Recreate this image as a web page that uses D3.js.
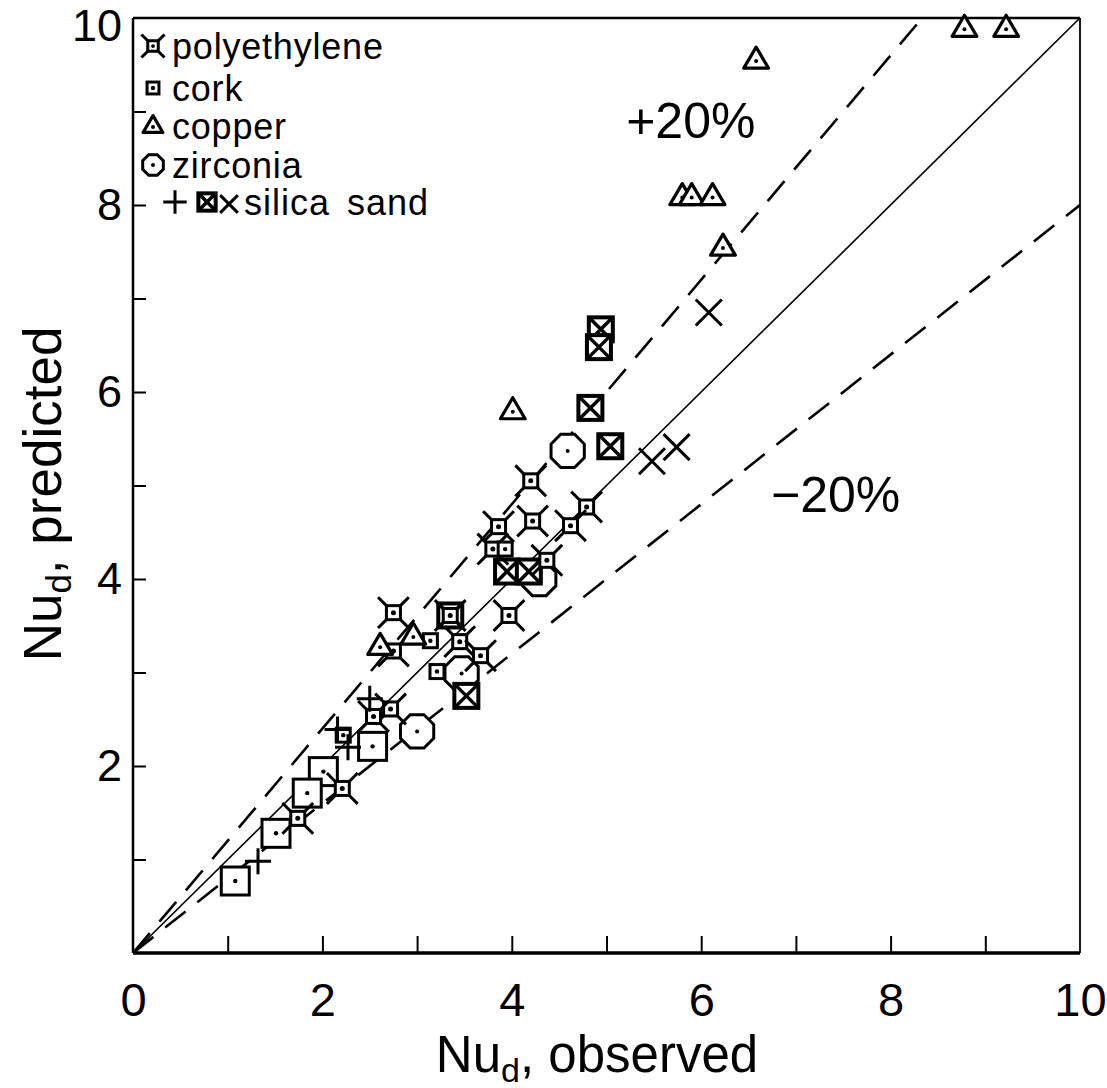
<!DOCTYPE html>
<html><head><meta charset="utf-8">
<script src="https://cdn.jsdelivr.net/npm/d3@7"></script>
<style>
html,body{margin:0;padding:0;background:#fff;}
svg{display:block;}
text{font-family:"Liberation Sans",Arial,Helvetica,sans-serif;fill:#000;}
</style></head>
<body>
<script>
// ---------------- data (Nu_d observed, Nu_d predicted) ----------------
const xTickLabels = [0, 2, 4, 6, 8, 10];
const yTickLabels = [2, 4, 6, 8, 10];
const minorTicks = [1, 2, 3, 4, 5, 6, 7, 8, 9];

const polyethylene = [
  [2.75, 3.64], [3.97, 3.61], [2.75, 3.23], [3.45, 3.33], [3.67, 3.18],
  [2.72, 2.61], [2.54, 2.53], [2.21, 1.76], [1.74, 1.44], [4.2, 5.05],
  [4.79, 4.77], [3.86, 4.56], [4.22, 4.62], [4.62, 4.57], [4.37, 4.2],
  [3.8, 4.32], [3.35, 3.61]
];
const cork = [[3.14, 3.34], [3.21, 3.01], [3.93, 4.32], [2.22, 2.33]];
const corkLarge = [[2.53, 2.21], [2.01, 1.94], [1.84, 1.71], [1.51, 1.28], [1.08, 0.77]];
const copper = [
  [8.78, 9.89], [9.22, 9.89], [6.58, 9.55], [5.8, 8.09], [5.9, 8.09],
  [6.12, 8.09], [6.23, 7.55], [4.01, 5.8], [2.61, 3.28], [2.96, 3.39]
];
const zirconia = [[4.59, 5.37], [4.29, 4.0], [3.47, 2.99], [3.0, 2.37]];
const sandPlus = [[2.5, 2.72], [2.16, 2.39], [2.27, 2.2], [1.32, 0.98]];
const sandBox = [
  [4.94, 6.67], [4.92, 6.48], [4.83, 5.83], [5.04, 5.42], [3.95, 4.08],
  [4.18, 4.08], [3.52, 2.75], [3.35, 3.61]
];
const sandCross = [[6.08, 6.85], [5.48, 5.26], [5.74, 5.41]];

const legendItems = ["polyethylene", "cork", "copper", "zirconia", "silica sand"];
const bandFactors = [1.2, 0.8];   // +20 % and -20 % lines
const bandLabels = ["+20%", "\u221220%"];
const bandLabelAt = [[5.89, 8.9], [7.42, 4.9]];

// ---------------- layout ----------------
const W = 1107, H = 1088;
const svg = d3.select("body").append("svg").attr("width", W).attr("height", H);
const x = d3.scaleLinear().domain([0, 10]).range([133, 1080]);
const y = d3.scaleLinear().domain([0, 10]).range([953, 18]);

const plot = svg.append("g");
plot.append("clipPath").attr("id", "clip").append("rect")
  .attr("x", x(0)).attr("y", y(10)).attr("width", x(10) - x(0)).attr("height", y(0) - y(10));

// reference lines
const lines = plot.append("g").attr("clip-path", "url(#clip)");
lines.append("line").attr("x1", x(0)).attr("y1", y(0)).attr("x2", x(10)).attr("y2", y(10))
  .attr("stroke", "#000").attr("stroke-width", 1.6);
bandFactors.forEach(f => {
  lines.append("line").attr("x1", x(0)).attr("y1", y(0)).attr("x2", x(10)).attr("y2", y(10 * f))
    .attr("stroke", "#000").attr("stroke-width", 2.6).attr("stroke-dasharray", "26,15");
});

// frame
const g = plot.append("g");
g.append("line").attr("x1", x(0)).attr("x2", x(10)).attr("y1", y(0)).attr("y2", y(0)).attr("stroke", "#000").attr("stroke-width", 3.5);
g.append("line").attr("x1", x(0)).attr("x2", x(10)).attr("y1", y(10)).attr("y2", y(10)).attr("stroke", "#000").attr("stroke-width", 2.5);
g.append("line").attr("x1", x(0)).attr("x2", x(0)).attr("y1", y(0)).attr("y2", y(10)).attr("stroke", "#000").attr("stroke-width", 2.5);
g.append("line").attr("x1", x(10)).attr("x2", x(10)).attr("y1", y(0)).attr("y2", y(10)).attr("stroke", "#000").attr("stroke-width", 1.8);

// ticks (inward)
const xTicks = d3.axisBottom(x).tickValues(minorTicks).tickSize(-17).tickFormat("");
const xt = svg.append("g").attr("transform", `translate(0,${y(0)})`).call(xTicks);
xt.select(".domain").remove();
xt.selectAll("line").attr("stroke-width", 2);
const yTicks = d3.axisLeft(y).tickValues(minorTicks).tickSize(-13).tickFormat("");
const yt = svg.append("g").attr("transform", `translate(${x(0)},0)`).call(yTicks);
yt.select(".domain").remove();
yt.selectAll("line").attr("stroke-width", 2);

// tick labels
const xl = svg.append("g").attr("transform", `translate(0,${y(0)})`)
  .call(d3.axisBottom(x).tickValues(xTickLabels).tickSize(0).tickPadding(30).tickFormat(d3.format("d")));
xl.select(".domain").remove();
xl.selectAll("text").attr("font-size", 47).attr("font-family", "Liberation Sans, Arial, sans-serif").attr("fill", "#000");
const yl = svg.append("g").attr("transform", `translate(${x(0)},0)`)
  .call(d3.axisLeft(y).tickValues(yTickLabels).tickSize(0).tickPadding(11).tickFormat(d3.format("d")));
yl.select(".domain").remove();
yl.selectAll("text").attr("font-size", 45).attr("font-family", "Liberation Sans, Arial, sans-serif").attr("fill", "#000")
  .attr("dy", d => d === 10 ? "0.5em" : "0.32em");

// axis titles
const xt2 = svg.append("text").attr("x", 597).attr("y", 1072).attr("text-anchor", "middle").attr("font-size", 51);
xt2.append("tspan").text("Nu");
xt2.append("tspan").attr("font-size", 34).attr("dy", 10).text("d");
xt2.append("tspan").attr("dy", -10).text(", observed");
const yt2 = svg.append("text").attr("transform", "translate(61,494) rotate(-90)").attr("text-anchor", "middle").attr("font-size", 53);
yt2.append("tspan").text("Nu");
yt2.append("tspan").attr("font-size", 35).attr("dy", 10).text("d");
yt2.append("tspan").attr("dy", -10).text(", predicted");

// band labels
bandLabels.forEach((t, i) => {
  svg.append("text").attr("x", x(bandLabelAt[i][0])).attr("y", y(bandLabelAt[i][1]))
    .attr("text-anchor", "middle").attr("dominant-baseline", "central").attr("font-size", 50).text(t);
});

// ---------------- marker painters ----------------
function dot(s, r) { s.append("circle").attr("r", r || 2).attr("fill", "#000"); }
const painters = {
  poly(s, k) {
    const h = 7 * k;
    s.append("rect").attr("x", -h).attr("y", -h).attr("width", 2 * h).attr("height", 2 * h).attr("fill", "#fff").attr("stroke", "#000").attr("stroke-width", 3);
    [[-1, -1], [1, -1], [1, 1], [-1, 1]].forEach(([a, b]) => {
      s.append("path").attr("d", `M${a * h},${b * h}L${a * h * 2.2},${b * h * 2.2}`).attr("stroke", "#000").attr("stroke-width", 3).attr("fill", "none");
    });
    dot(s, 2.5 * k);
  },
  square(s, k) {
    const h = 7 * k;
    s.append("rect").attr("x", -h).attr("y", -h).attr("width", 2 * h).attr("height", 2 * h).attr("fill", "#fff").attr("stroke", "#000").attr("stroke-width", 3);
    dot(s, 2.2);
  },
  triangle(s, k) {
    const r = 13 * k;
    s.append("path").attr("d", `M0,${-r}L${r * 0.95},${r * 0.62}L${-r * 0.95},${r * 0.62}Z`).attr("fill", "#fff").attr("stroke", "#000").attr("stroke-width", 3.2).attr("stroke-linejoin", "round");
    s.append("circle").attr("cy", 1).attr("r", 2).attr("fill", "#000");
  },
  octagon(s, k) {
    const r = 18 * k;
    const pts = d3.range(8).map(i => { const a = Math.PI / 8 + i * Math.PI / 4; return [r * Math.cos(a), r * Math.sin(a)]; });
    s.append("path").attr("d", "M" + pts.join("L") + "Z").attr("fill", "#fff").attr("stroke", "#000").attr("stroke-width", 3);
    dot(s, 2);
  },
  plus(s, k) {
    const r = 13 * k;
    s.append("path").attr("d", `M${-r},0L${r},0M0,${-r}L0,${r}`).attr("stroke", "#000").attr("stroke-width", 3).attr("fill", "none");
  },
  boxX(s, k) {
    const h = 12 * k;
    s.append("rect").attr("x", -h).attr("y", -h).attr("width", 2 * h).attr("height", 2 * h).attr("fill", "#fff").attr("stroke", "#000").attr("stroke-width", 4);
    s.append("path").attr("d", `M${-h},${-h}L${h},${h}M${h},${-h}L${-h},${h}`).attr("stroke", "#000").attr("stroke-width", 3.5);
  },
  cross(s, k) {
    const r = 13 * k;
    s.append("path").attr("d", `M${-r},${-r}L${r},${r}M${r},${-r}L${-r},${r}`).attr("stroke", "#000").attr("stroke-width", 3).attr("fill", "none");
  }
};

const series = [
  { data: zirconia, paint: "octagon", k: 1 },
  { data: corkLarge, paint: "square", k: 2 },
  { data: sandBox, paint: "boxX", k: 1 },
  { data: polyethylene, paint: "poly", k: 1 },
  { data: cork, paint: "square", k: 1 },
  { data: copper, paint: "triangle", k: 1 },
  { data: sandPlus, paint: "plus", k: 1 },
  { data: sandCross, paint: "cross", k: 1 }
];
const marks = svg.append("g");
series.forEach(sr => {
  sr.data.forEach(d => {
    const s = marks.append("g").attr("transform", `translate(${x(d[0])},${y(d[1])})`);
    painters[sr.paint](s, sr.k);
  });
});

// ---------------- legend ----------------
const lg = svg.append("g");
const rowY = [46, 88, 126, 165, 202];
const legendPaint = [["poly", 0.75], ["square", 0.85], ["triangle", 0.8], ["octagon", 0.62]];
legendItems.forEach((t, i) => {
  if (i < 4) {
    const s = lg.append("g").attr("transform", `translate(153,${rowY[i]})`);
    painters[legendPaint[i][0]](s, legendPaint[i][1]);
    lg.append("text").attr("x", 172).attr("y", rowY[i]).attr("dominant-baseline", "central")
      .attr("font-size", 36).attr("letter-spacing", 0.8).text(t);
  } else {
    const s1 = lg.append("g").attr("transform", `translate(175,${rowY[i]})`);
    painters.plus(s1, 0.9);
    const s2 = lg.append("g").attr("transform", `translate(207,${rowY[i]})`);
    painters.boxX(s2, 0.72);
    const s3 = lg.append("g").attr("transform", `translate(229,${rowY[i] + 2})`);
    painters.cross(s3, 0.68);
    lg.append("text").attr("x", 244).attr("y", rowY[i]).attr("dominant-baseline", "central")
      .attr("font-size", 36).attr("letter-spacing", 1).attr("word-spacing", 6).text(t);
  }
});
</script>
</body></html>
